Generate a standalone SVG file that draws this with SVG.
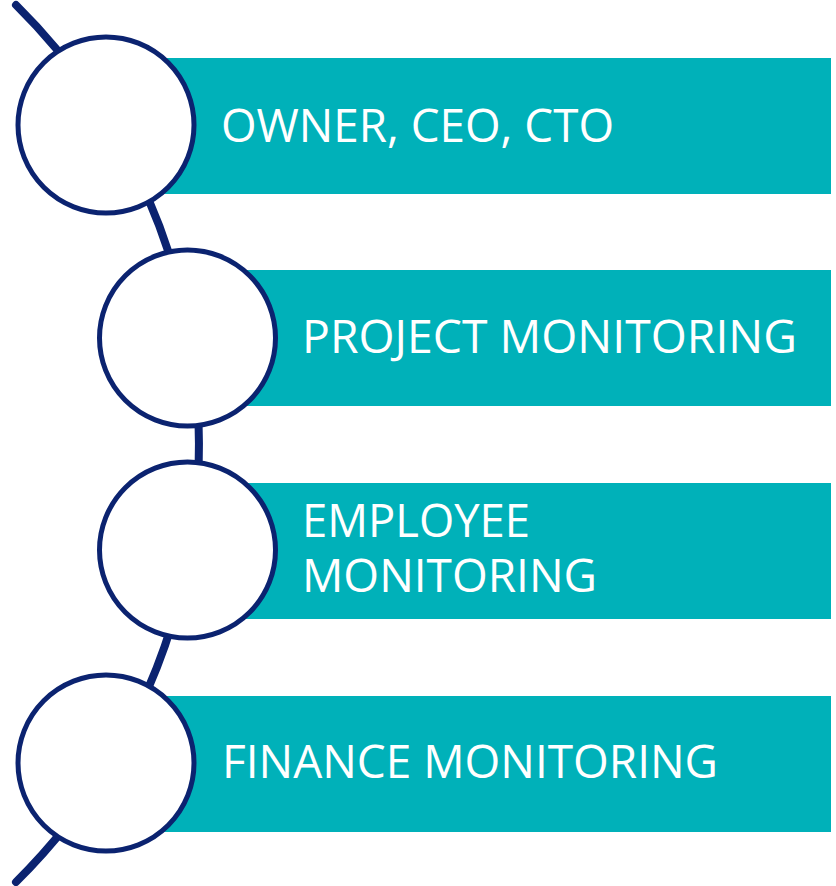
<svg xmlns="http://www.w3.org/2000/svg" width="836" height="886" viewBox="0 0 836 886">
<style>
.bar{fill:#00B1B9}
.ring{fill:#FFFFFF;stroke:#0B2370;stroke-width:5}
.lbl{fill:#FFFFFF;font-family:"Open Sans","Noto Sans",sans-serif;font-size:45px}
.conn{fill:none;stroke:#0B2370;stroke-width:8;stroke-linecap:round}
</style>
<rect width="836" height="886" fill="#FFFFFF"/>
<g id="connectors">
<path class="conn" d="M 16 5 A 617 617 0 0 1 16 882"/>
</g>
<g id="node1">
<rect class="bar" x="106" y="58" width="725" height="136"/>
<circle class="ring" cx="106" cy="125" r="88"/>
<text class="lbl" x="221" y="142" textLength="393" lengthAdjust="spacingAndGlyphs">OWNER, CEO, CTO</text>
</g>
<g id="node2">
<rect class="bar" x="188" y="270" width="643" height="136"/>
<circle class="ring" cx="187.5" cy="338" r="88"/>
<text class="lbl" x="302" y="353" textLength="495" lengthAdjust="spacingAndGlyphs">PROJECT MONITORING</text>
</g>
<g id="node3">
<rect class="bar" x="188" y="483" width="643" height="136"/>
<circle class="ring" cx="187.5" cy="550" r="88"/>
<text class="lbl" x="302" y="537" textLength="228" lengthAdjust="spacingAndGlyphs">EMPLOYEE</text>
<text class="lbl" x="302" y="592" textLength="295" lengthAdjust="spacingAndGlyphs">MONITORING</text>
</g>
<g id="node4">
<rect class="bar" x="106" y="696" width="725" height="136"/>
<circle class="ring" cx="106" cy="763" r="88"/>
<text class="lbl" x="222" y="778" textLength="496" lengthAdjust="spacingAndGlyphs">FINANCE MONITORING</text>
</g>
</svg>
